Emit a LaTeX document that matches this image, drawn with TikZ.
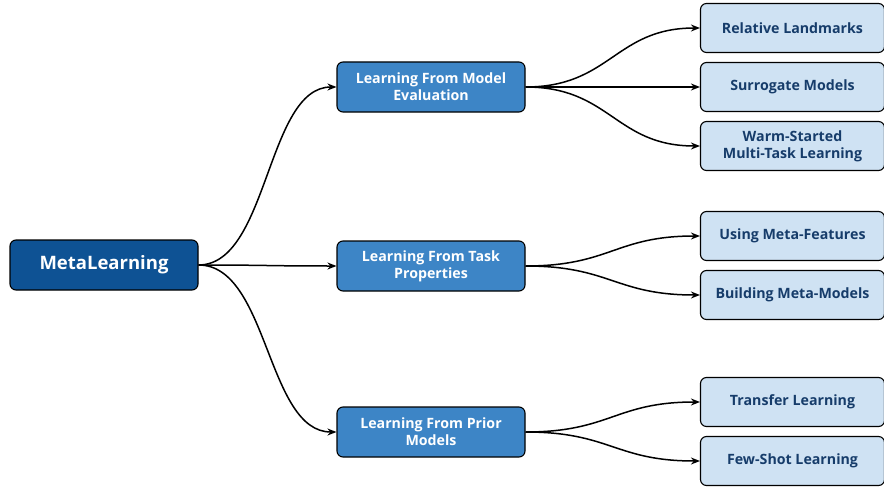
\documentclass[tikz,border=0pt]{standalone}
\usepackage{fontspec}
\setmainfont{Open Sans}[UprightFont=* Bold]
\usetikzlibrary{arrows.meta}
\definecolor{rootblue}{RGB}{14,82,148}
\definecolor{midblue}{RGB}{61,133,198}
\definecolor{leafblue}{RGB}{207,226,243}
\definecolor{leaftext}{RGB}{22,60,106}
\tikzset{
  box/.style={draw=black, line width=1.1pt, rounded corners=6pt, align=center, inner sep=0pt},
  rootbox/.style={box, fill=rootblue, text=white, minimum width=188pt, minimum height=50pt, font=\fontsize{18.5}{22}\selectfont},
  midbox/.style={box, fill=midblue, text=white, minimum width=188pt, minimum height=50pt, font=\fontsize{14.2}{17}\selectfont},
  leafbox/.style={box, fill=leafblue, text=leaftext, minimum width=184pt, minimum height=49pt, font=\fontsize{14.2}{17}\selectfont},
  conn/.style={line width=1.5pt, -{Stealth[length=9pt,width=7pt]}}
}
\begin{document}
\begin{tikzpicture}[x=1pt,y=-1pt]
\useasboundingbox (0,0) rectangle (884,487);
\node[rootbox] (root) at (104,265) {MetaLearning};
\node[midbox] (eval) at (431,87) {Learning From Model\\Evaluation};
\node[midbox] (task) at (431,266) {Learning From Task\\Properties};
\node[midbox] (prior) at (431,432) {Learning From Prior\\Models};
\node[leafbox] (rl) at (792.5,28) {Relative Landmarks};
\node[leafbox] (sm) at (792.5,87) {Surrogate Models};
\node[leafbox] (ws) at (792.5,146) {Warm-Started\\Multi-Task Learning};
\node[leafbox] (mf) at (792.5,236) {Using Meta-Features};
\node[leafbox] (mm) at (792.5,295) {Building Meta-Models};
\node[leafbox] (tl) at (792.5,402) {Transfer Learning};
\node[leafbox] (fs) at (792.5,461) {Few-Shot Learning};
\foreach \a/\b in {root/eval,root/task,root/prior}
  \draw[conn] (\a.east) .. controls +(70,0) and +(-70,0) .. (\b.west);
\foreach \a/\b in {eval/rl,eval/sm,eval/ws,task/mf,task/mm,prior/tl,prior/fs}
  \draw[conn] (\a.east) .. controls +(85,0) and +(-85,0) .. (\b.west);
\end{tikzpicture}
\end{document}
